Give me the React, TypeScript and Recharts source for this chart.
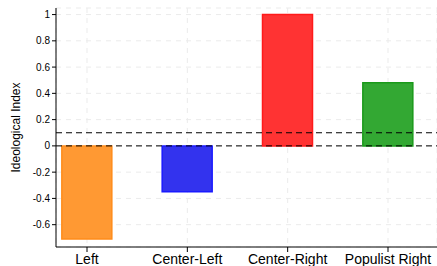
import { BarChart, Bar, Cell, XAxis, YAxis, CartesianGrid, ReferenceLine } from 'recharts';

const groups = ['Left', 'Center-Left', 'Center-Right', 'Populist Right'];
const index = [-0.71, -0.35, 1.0, 0.48];
const fills = ['#ff9933', '#3333ee', '#ff3333', '#33a833'];
const strokes = ['#ff8c1a', '#1a1aff', '#ff1a1a', '#1a991a'];
const yTicks = [-0.6, -0.4, -0.2, 0, 0.2, 0.4, 0.6, 0.8, 1];
const refLines = [0, 0.1];

const data = groups.map((name, i) => ({ name, value: index[i] }));

export default function App() {
  return (
    <div style={{ position: 'absolute', left: 0, top: 0, fontFamily: 'Arial, "Liberation Sans", sans-serif' }}>
      <BarChart
        width={437}
        height={266}
        data={data}
        margin={{ top: 8, right: 0, bottom: 0, left: 0 }}
      >
        <CartesianGrid stroke="#ebebeb" strokeDasharray="5 5" />
        <XAxis
          dataKey="name"
          scale="point"
          padding={{ left: 31, right: 49 }}
          height={19}
          stroke="#000"
          tickSize={5}
          tick={{ fill: '#000', fontSize: 14 }}
          interval={0}
        />
        <YAxis
          domain={[-0.77, 1.05]}
          ticks={yTicks}
          width={56}
          stroke="#000"
          tickSize={4}
          tick={{ fill: '#000', fontSize: 10 }}
          allowDataOverflow
          label={{
            value: 'Ideological Index',
            angle: -90,
            position: 'insideLeft',
            offset: 16,
            style: { textAnchor: 'middle', fill: '#000', fontSize: 12 },
          }}
        />
        <ReferenceLine y={refLines[0]} stroke="#000" strokeDasharray="6 4" />
        <ReferenceLine y={refLines[1]} stroke="#000" strokeDasharray="6 4" />
        <Bar dataKey="value" barSize={50} isAnimationActive={false}>
          {data.map((d, i) => (
            <Cell key={d.name} fill={fills[i]} stroke={strokes[i]} strokeWidth={1.5} />
          ))}
        </Bar>
      </BarChart>
    </div>
  );
}
